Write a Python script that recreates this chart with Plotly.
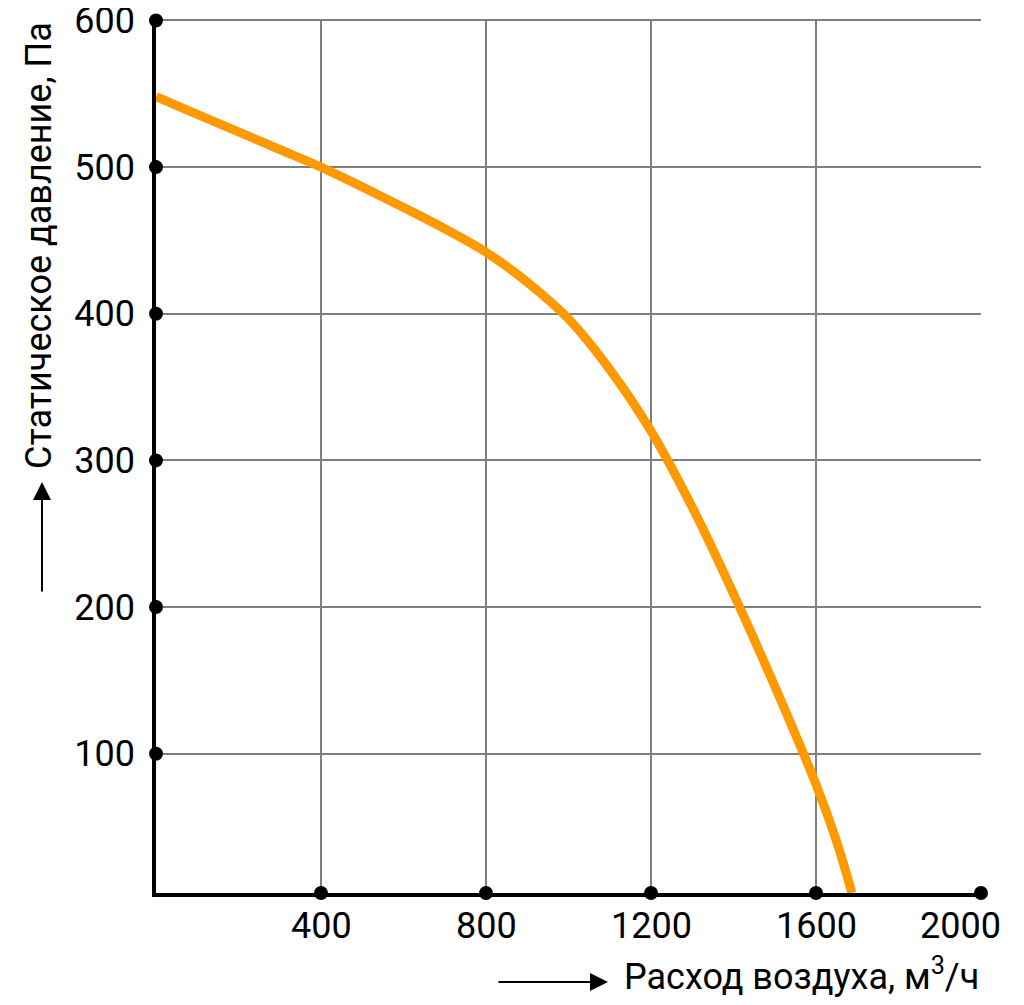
import plotly.graph_objects as go

# fan curve
airflow = [0, 100, 200, 300, 400, 500, 600, 700, 800, 900, 1000, 1100, 1200, 1300, 1400, 1500, 1600, 1650, 1687]
pressure = [548, 536, 524, 512, 500, 486.5, 472.5, 458, 442, 421.5, 396.5, 362, 320, 268, 209, 146, 79, 40, 5]

x_ticks = [400, 800, 1200, 1600, 2000]
y_ticks = [100, 200, 300, 400, 500, 600]

x_title = "Расход воздуха, м<sup>3</sup>/ч"
y_title = "Статическое давление, Па"

x_range = [0, 2000]
y_range = [5, 601]

FONT = "Roboto"
OFF = 8  # body margin of the html page
W, H = 1024 - OFF, 1005 - OFF
L, R, T, B = 156 - OFF, 43, 19 - OFF, 112


def px_x(p):
    return (p - OFF - L) / (W - L - R)


def px_y(p):
    return (OFF + H - B - p) / (H - T - B)


fig = go.Figure()

fig.add_trace(go.Scatter(
    x=airflow, y=pressure, mode="lines",
    line=dict(color="#ff9900", width=9, shape="spline", smoothing=1.0),
    hoverinfo="skip", showlegend=False))

# black dots on the axes at every tick
fig.add_trace(go.Scatter(
    x=x_ticks, y=[y_range[0]] * len(x_ticks), mode="markers",
    marker=dict(color="black", size=14), cliponaxis=False, showlegend=False))
fig.add_trace(go.Scatter(
    x=[x_range[0]] * len(y_ticks), y=y_ticks, mode="markers",
    marker=dict(color="black", size=14), cliponaxis=False, showlegend=False))

axis_common = dict(
    showgrid=True, gridcolor="#7f7f7f", gridwidth=2,
    showline=True, linecolor="black", linewidth=3.5,
    ticks="", zeroline=False, automargin=False,
    tickfont=dict(family=FONT, size=36, color="black"),
)

fig.update_xaxes(range=x_range, tickvals=x_ticks, showticklabels=False, **axis_common)
fig.update_yaxes(range=y_range, tickvals=y_ticks, ticklabelstandoff=10,
                 ticklabeloverflow="allow", **axis_common)

# x tick labels; the last one is pulled in so it stays inside the page
for i, v in enumerate(x_ticks):
    fig.add_annotation(
        xref="x", yref="paper", x=v, y=px_y(926), xanchor="center", yanchor="middle",
        xshift=-21 if i == len(x_ticks) - 1 else 0,
        text=str(v), showarrow=False, font=dict(family=FONT, size=36, color="black"))

# axis titles with arrows
fig.add_annotation(
    xref="paper", yref="paper", x=px_x(608), y=px_y(982),
    ax=-111, ay=0, axref="pixel", ayref="pixel", text="",
    showarrow=True, arrowhead=2, arrowsize=1.8, arrowwidth=2, arrowcolor="black")
fig.add_annotation(
    xref="paper", yref="paper", x=px_x(622), y=px_y(974),
    xanchor="left", yanchor="middle", text=x_title, showarrow=False,
    font=dict(family=FONT, size=36, color="black"))

fig.add_annotation(
    xref="paper", yref="paper", x=px_x(42), y=px_y(482),
    ax=0, ay=111, axref="pixel", ayref="pixel", text="",
    showarrow=True, arrowhead=2, arrowsize=1.8, arrowwidth=2, arrowcolor="black")
fig.add_annotation(
    xref="paper", yref="paper", x=px_x(39), y=px_y(246),
    xanchor="center", yanchor="middle", textangle=-90, text=y_title, showarrow=False,
    font=dict(family=FONT, size=36, color="black"))

fig.update_layout(
    width=W, height=H,
    margin=dict(l=L, r=R, t=T, b=B),
    plot_bgcolor="white", paper_bgcolor="white",
    showlegend=False,
)

fig.write_html("out.html")
